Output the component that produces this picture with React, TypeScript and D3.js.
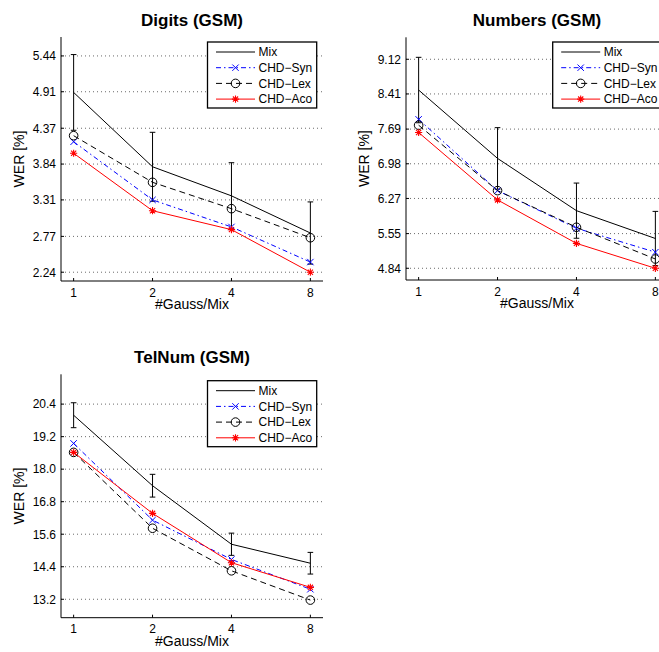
import React from "react";
import * as d3 from "d3";

const gaussMix = [1, 2, 4, 8];
const seriesNames = ["Mix", "CHD−Syn", "CHD−Lex", "CHD−Aco"];

// Digits (GSM)
const digitsMix = [4.9, 3.8, 3.37, 2.82];
const digitsMixErr = [0.56, 0.51, 0.49, 0.46];
const digitsSyn = [4.17, 3.31, 2.91, 2.39];
const digitsLex = [4.26, 3.57, 3.18, 2.75];
const digitsAco = [4.0, 3.15, 2.87, 2.24];
const digitsTicks = ["2.24", "2.77", "3.31", "3.84", "4.37", "4.91", "5.44"];

// Numbers (GSM)
const numbersMix = [8.49, 7.09, 6.02, 5.45];
const numbersMixErr = [0.67, 0.63, 0.565, 0.555];
const numbersSyn = [7.89, 6.43, 5.66, 5.17];
const numbersLex = [7.77, 6.43, 5.68, 5.03];
const numbersAco = [7.62, 6.24, 5.35, 4.84];
const numbersTicks = ["4.84", "5.55", "6.27", "6.98", "7.69", "8.41", "9.12"];

// TelNum (GSM)
const telnumMix = [19.99, 17.39, 15.23, 14.53];
const telnumMixErr = [0.46, 0.42, 0.41, 0.4];
const telnumSyn = [18.95, 16.12, 14.67, 13.57];
const telnumLex = [18.62, 15.82, 14.25, 13.17];
const telnumAco = [18.62, 16.37, 14.55, 13.64];
const telnumTicks = ["13.2", "14.4", "15.6", "16.8", "18.0", "19.2", "20.4"];

const FONT = "'Liberation Sans', Arial, Helvetica, sans-serif";

type Panel = {
  title: string;
  mix: number[];
  err: number[];
  syn: number[];
  lex: number[];
  aco: number[];
  ticks: string[];
  ylim: [number, number];
  left: number;
  right: number;
  top: number;
  bottom: number;
  legendLeft: number;
  legendTop: number;
};

const panels: Panel[] = [
  {
    title: "Digits (GSM)",
    mix: digitsMix, err: digitsMixErr, syn: digitsSyn, lex: digitsLex, aco: digitsAco,
    ticks: digitsTicks, ylim: [2.11, 5.72],
    left: 61, right: 323, top: 37, bottom: 281,
    legendLeft: 207.5, legendTop: 42,
  },
  {
    title: "Numbers (GSM)",
    mix: numbersMix, err: numbersMixErr, syn: numbersSyn, lex: numbersLex, aco: numbersAco,
    ticks: numbersTicks, ylim: [4.6, 9.57],
    left: 406, right: 668, top: 37.3, bottom: 280,
    legendLeft: 552.7, legendTop: 42,
  },
  {
    title: "TelNum (GSM)",
    mix: telnumMix, err: telnumMixErr, syn: telnumSyn, lex: telnumLex, aco: telnumAco,
    ticks: telnumTicks, ylim: [12.52, 21.5],
    left: 61, right: 323, top: 374.3, bottom: 617.7,
    legendLeft: 207.5, legendTop: 380.7,
  },
];

const BLUE = "#0000ff";
const RED = "#ff0000";

function XMark({ x, y, color }: { x: number; y: number; color: string }) {
  const s = 3.2;
  return (
    <path d={`M${x - s},${y - s}L${x + s},${y + s}M${x - s},${y + s}L${x + s},${y - s}`} stroke={color} strokeWidth={1} fill="none" />
  );
}
function Circle({ x, y }: { x: number; y: number }) {
  return <circle cx={x} cy={y} r={4.3} stroke="#000" strokeWidth={1} fill="none" />;
}
function Star({ x, y }: { x: number; y: number }) {
  const s = 3.6;
  const d = s * 0.72;
  return (
    <path
      d={`M${x - s},${y}L${x + s},${y}M${x},${y - s}L${x},${y + s}M${x - d},${y - d}L${x + d},${y + d}M${x - d},${y + d}L${x + d},${y - d}`}
      stroke={RED}
      strokeWidth={1.1}
      fill="none"
    />
  );
}

const styles = [
  { color: "#000", dash: undefined as string | undefined, marker: "none" },
  { color: BLUE, dash: "5,3,1.5,3", marker: "x" },
  { color: "#000", dash: "6,4", marker: "o" },
  { color: RED, dash: undefined as string | undefined, marker: "*" },
];

function Marker({ kind, x, y }: { kind: string; x: number; y: number }) {
  if (kind === "x") return <XMark x={x} y={y} color={BLUE} />;
  if (kind === "o") return <Circle x={x} y={y} />;
  if (kind === "*") return <Star x={x} y={y} />;
  return null;
}

function PanelView({ p }: { p: Panel }) {
  const x = d3
    .scaleLog()
    .base(2)
    .domain([Math.pow(2, -0.16), Math.pow(2, 3.16)])
    .range([p.left, p.right]);
  const y = d3.scaleLinear().domain(p.ylim).range([p.bottom, p.top]);
  const line = d3
    .line<number>()
    .x((_, i) => x(gaussMix[i]))
    .y((v) => y(v));
  const series = [p.mix, p.syn, p.lex, p.aco];
  const cx = (p.left + p.right) / 2;
  const cy = (p.top + p.bottom) / 2;
  const rowH = 15.7;
  const legW = 109.2;
  const legH = 66;

  return (
    <g fontFamily={FONT}>
      {/* grid */}
      {p.ticks.map((t) => (
        <line
          key={"g" + t}
          x1={p.left}
          x2={p.right}
          y1={y(+t)}
          y2={y(+t)}
          stroke="#444"
          strokeWidth={0.8}
          strokeDasharray="1,3"
        />
      ))}
      {/* axes */}
      <line x1={p.left} x2={p.left} y1={p.top} y2={p.bottom} stroke="#000" strokeWidth={1} />
      <line x1={p.left} x2={p.right} y1={p.bottom} y2={p.bottom} stroke="#000" strokeWidth={1} />
      {p.ticks.map((t) => (
        <g key={"t" + t}>
          <line x1={p.left} x2={p.left + 3} y1={y(+t)} y2={y(+t)} stroke="#000" />
          <text x={p.left - 5} y={y(+t) + 4.3} fontSize={12} textAnchor="end" fill="#000">
            {t}
          </text>
        </g>
      ))}
      {gaussMix.map((g) => (
        <g key={"xt" + g}>
          <line x1={x(g)} x2={x(g)} y1={p.bottom} y2={p.bottom - 3} stroke="#000" />
          <text x={x(g)} y={p.bottom + 15.5} fontSize={12} textAnchor="middle" fill="#000">
            {g}
          </text>
        </g>
      ))}
      <text x={cx} y={p.bottom + 28} fontSize={14} textAnchor="middle" fill="#000">
        #Gauss/Mix
      </text>
      <text
        transform={`translate(${p.left - 37},${cy}) rotate(-90)`}
        fontSize={14}
        textAnchor="middle"
        fill="#000"
      >
        WER [%]
      </text>
      <text x={cx} y={p.top - 11} fontSize={17} fontWeight="bold" textAnchor="middle" fill="#000">
        {p.title}
      </text>
      {/* error bars */}
      {p.mix.map((v, i) => {
        const xx = x(gaussMix[i]);
        const y1 = y(v + p.err[i]);
        const y2 = y(v - p.err[i]);
        return (
          <path
            key={"e" + i}
            d={`M${xx},${y1}L${xx},${y2}M${xx - 2.8},${y1}L${xx + 2.8},${y1}M${xx - 2.8},${y2}L${xx + 2.8},${y2}`}
            stroke="#000"
            strokeWidth={1}
            fill="none"
          />
        );
      })}
      {/* series */}
      {series.map((s, k) => (
        <g key={"s" + k}>
          <path d={line(s) || ""} stroke={styles[k].color} strokeWidth={1} strokeDasharray={styles[k].dash} fill="none" />
          {s.map((v, i) => (
            <Marker key={i} kind={styles[k].marker} x={x(gaussMix[i])} y={y(v)} />
          ))}
        </g>
      ))}
      {/* legend */}
      <rect x={p.legendLeft} y={p.legendTop} width={legW} height={legH} fill="#fff" stroke="#000" strokeWidth={1.3} />
      {seriesNames.map((n, k) => {
        const ry = p.legendTop + 10 + k * rowH;
        const x1 = p.legendLeft + 8.5;
        const x2 = p.legendLeft + 47.5;
        return (
          <g key={"l" + k}>
            <line x1={x1} x2={x2} y1={ry} y2={ry} stroke={styles[k].color} strokeWidth={1} strokeDasharray={styles[k].dash} />
            <Marker kind={styles[k].marker} x={(x1 + x2) / 2} y={ry} />
            <text x={p.legendLeft + 51} y={ry + 4.3} fontSize={12} fill="#000">
              {n}
            </text>
          </g>
        );
      })}
    </g>
  );
}

export default function App() {
  return (
    <svg
      width={659}
      height={652}
      style={{ position: "absolute", left: 0, top: 0, background: "#fff" }}
    >
      <rect x={0} y={0} width={659} height={652} fill="#fff" />
      {panels.map((p) => (
        <PanelView key={p.title} p={p} />
      ))}
    </svg>
  );
}
